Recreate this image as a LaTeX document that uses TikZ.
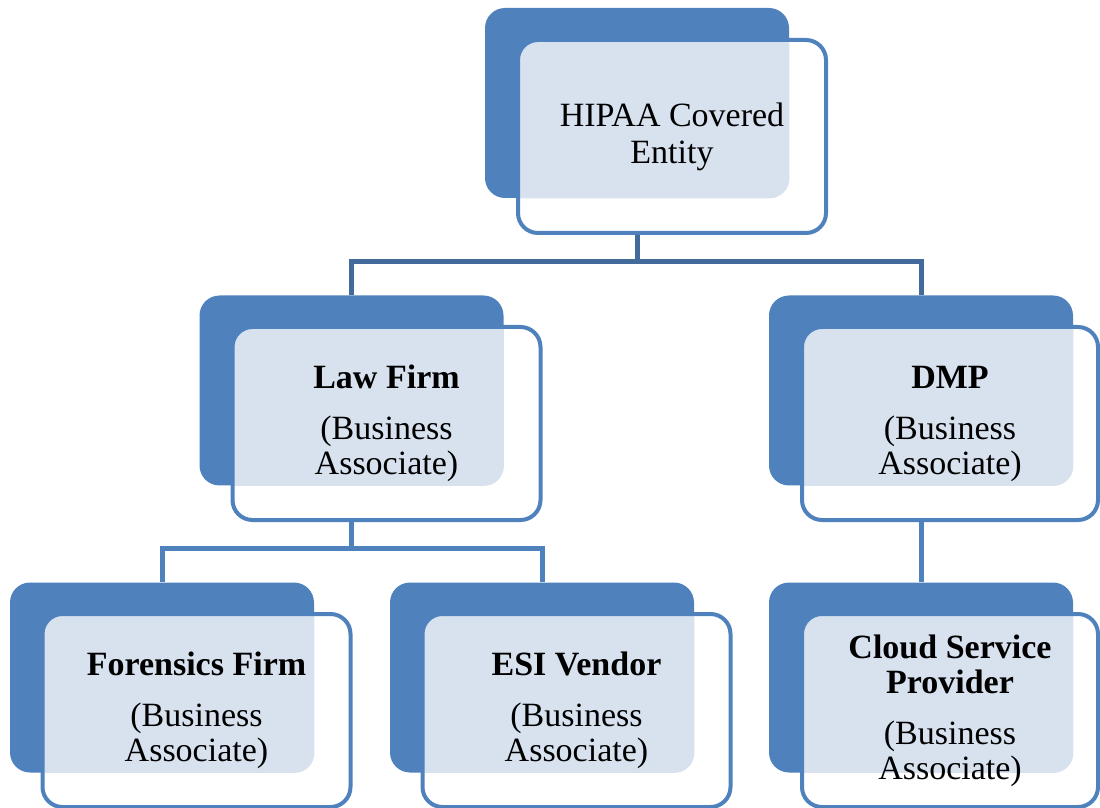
\documentclass[tikz,border=0pt]{standalone}
\usepackage{fontspec}
\setmainfont{Liberation Serif}
\usepackage{xcolor}
\usepackage{tikz}

\begin{document}
\begin{tikzpicture}[x=0.5pt, y=-0.5pt]
		\definecolor{boxblue}{RGB}{79,129,189}
		\definecolor{linkblue}{RGB}{66,106,154}
		\definecolor{dotblue}{RGB}{216,226,239}
		\tikzstyle{back} = [rectangle, rounded corners=10pt, minimum width=152pt, minimum height=95pt, inner sep=0pt, fill=boxblue]
		\tikzstyle{front} = [rectangle, rounded corners=10pt, minimum width=154pt, minimum height=96.5pt, inner sep=0pt, draw=boxblue, line width=2pt, fill=white, align=center, font=\fontsize{17}{17.5}\selectfont, path picture={\fill[dotblue, rounded corners=10pt] (#1.north west) rectangle (#1.south east);}]
		\tikzstyle{link} = [line width=2.5pt, draw=linkblue]
		\tikzstyle{sublink} = [line width=2.5pt, draw=boxblue]

		\useasboundingbox (0,0) rectangle (1100,808);

		\node (topback) [back] at (637,103) {};
		\node (lawback) [back] at (351.5,390.5) {};
		\node (dmpback) [back] at (921,390.5) {};
		\node (forensicsback) [back] at (162,677.5) {};
		\node (esiback) [back] at (542,677.5) {};
		\node (cloudback) [back] at (921,677.5) {};

		\node (top) [front=topback, xshift=17.5pt, yshift=-16.75pt] at (topback) {HIPAA Covered\\[1pt]Entity};
		\node (law) [front=lawback, xshift=17.5pt, yshift=-16.5pt] at (lawback) {\textbf{Law Firm}\\[8pt](Business\\Associate)};
		\node (dmp) [front=dmpback, minimum width=148pt, xshift=14.5pt, yshift=-16.5pt] at (dmpback) {\textbf{DMP}\\[8pt](Business\\Associate)};
		\node (forensics) [front=forensicsback, xshift=17.25pt, yshift=-16.5pt] at (forensicsback) {\textbf{Forensics Firm}\\[8pt](Business\\Associate)};
		\node (esi) [front=esiback, xshift=17.25pt, yshift=-16.5pt] at (esiback) {\textbf{ESI Vendor}\\[8pt](Business\\Associate)};
		\node (cloud) [front=cloudback, minimum width=148pt, xshift=14.5pt, yshift=-16.5pt] at (cloudback) {\textbf{Cloud Service}\\\textbf{Provider}\\[8pt](Business\\Associate)};

		\draw [link] (topback.center |- top.south) -- ++(0,27) -| (lawback.north);
		\draw [link] (topback.center |- top.south) -- ++(0,27) -| (dmpback.north);
		\draw [sublink] (lawback.center |- law.south) -- ++(0,26) -| (forensicsback.north);
		\draw [sublink] (lawback.center |- law.south) -- ++(0,26) -| (esiback.north);
		\draw [sublink] (dmpback.center |- dmp.south) -- (cloudback.north);
	\end{tikzpicture}
\end{document}
